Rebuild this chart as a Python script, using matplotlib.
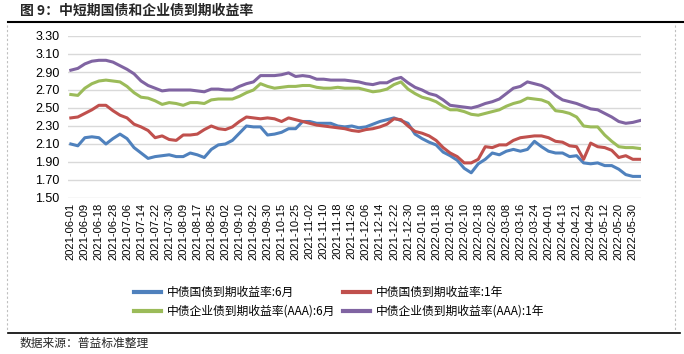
import matplotlib.pyplot as plt
import numpy as np
from matplotlib.lines import Line2D

plt.rcParams['font.family'] = ['Liberation Sans', 'Noto Sans CJK SC', 'DejaVu Sans']
CJK = ['Noto Sans CJK SC', 'DejaVu Sans']

# tick labels: every 6th trading day
tick_labels = [
    '2021-06-01', '2021-06-09', '2021-06-18', '2021-06-28', '2021-07-06', '2021-07-14',
    '2021-07-22', '2021-07-30', '2021-08-09', '2021-08-17', '2021-08-25', '2021-09-02',
    '2021-09-10', '2021-09-22', '2021-09-30', '2021-10-15', '2021-10-25', '2021-11-02',
    '2021-11-10', '2021-11-18', '2021-11-26', '2021-12-06', '2021-12-14', '2021-12-22',
    '2021-12-30', '2022-01-10', '2022-01-18', '2022-01-26', '2022-02-10', '2022-02-18',
    '2022-02-28', '2022-03-08', '2022-03-16', '2022-03-24', '2022-04-01', '2022-04-13',
    '2022-04-21', '2022-04-29', '2022-05-12', '2022-05-20', '2022-05-30',
]

# yields read every 3rd trading day
gov_6m = [
    2.10, 2.08, 2.17, 2.18, 2.17, 2.10, 2.16, 2.21, 2.16, 2.06, 2.00, 1.94, 1.96, 1.97,
    1.98, 1.96, 1.96, 2.00, 1.98, 1.95, 2.04,
    2.09, 2.10, 2.14, 2.22, 2.30, 2.29, 2.29, 2.20, 2.21, 2.23, 2.27, 2.27, 2.35, 2.35,
    2.33, 2.33, 2.33, 2.30, 2.29, 2.30,
    2.28, 2.29, 2.32, 2.35, 2.37, 2.39, 2.36, 2.33, 2.21, 2.16, 2.12, 2.09, 2.01, 1.97,
    1.92, 1.83, 1.78, 1.88, 1.93, 2.00, 1.98,
    2.02, 2.04, 2.02, 2.04, 2.13, 2.07, 2.02, 2.00, 2.00, 1.96, 1.97, 1.89, 1.88, 1.89,
    1.86, 1.86, 1.82, 1.76, 1.74, 1.74,
]
gov_1y = [
    2.39, 2.40, 2.44, 2.48, 2.53, 2.53, 2.47, 2.42, 2.39, 2.32, 2.29, 2.25, 2.17, 2.19,
    2.15, 2.14, 2.20, 2.20, 2.21, 2.26, 2.30,
    2.27, 2.26, 2.29, 2.35, 2.40, 2.39, 2.38, 2.39, 2.38, 2.35, 2.39, 2.37, 2.35, 2.33,
    2.31, 2.30, 2.29, 2.28, 2.27, 2.25,
    2.24, 2.26, 2.27, 2.29, 2.32, 2.38, 2.37, 2.30, 2.24, 2.22, 2.19, 2.14, 2.06, 2.00,
    1.96, 1.89, 1.89, 1.93, 2.07, 2.06, 2.09,
    2.09, 2.14, 2.17, 2.18, 2.19, 2.19, 2.17, 2.13, 2.12, 2.08, 2.07, 1.93, 2.11, 2.07,
    2.06, 2.03, 1.95, 1.97, 1.93, 1.93,
]
corp_6m = [
    2.65, 2.64, 2.72, 2.77, 2.80, 2.81, 2.80, 2.79, 2.74, 2.67, 2.62, 2.61, 2.58, 2.54,
    2.56, 2.55, 2.53, 2.56, 2.56, 2.55, 2.59,
    2.60, 2.60, 2.60, 2.63, 2.67, 2.70, 2.77, 2.74, 2.72, 2.73, 2.74, 2.74, 2.75, 2.75,
    2.73, 2.72, 2.72, 2.73, 2.72, 2.72,
    2.72, 2.70, 2.68, 2.69, 2.71, 2.76, 2.79, 2.71, 2.66, 2.62, 2.60, 2.57, 2.52, 2.48,
    2.48, 2.46, 2.43, 2.42, 2.44, 2.46, 2.48,
    2.52, 2.55, 2.57, 2.61, 2.60, 2.59, 2.56, 2.47, 2.46, 2.44, 2.40, 2.30, 2.29, 2.29,
    2.20, 2.13, 2.07, 2.06, 2.06, 2.05,
]
corp_1y = [
    2.92, 2.94, 2.99, 3.02, 3.03, 3.03, 3.01, 2.97, 2.93, 2.88, 2.80, 2.75, 2.72, 2.69,
    2.70, 2.70, 2.70, 2.70, 2.69, 2.68, 2.71,
    2.71, 2.70, 2.70, 2.74, 2.77, 2.79, 2.86, 2.86, 2.86, 2.87, 2.89, 2.85, 2.86, 2.85,
    2.82, 2.82, 2.81, 2.81, 2.81, 2.80,
    2.79, 2.77, 2.76, 2.78, 2.78, 2.82, 2.84, 2.78, 2.73, 2.70, 2.66, 2.64, 2.59, 2.53,
    2.52, 2.51, 2.50, 2.52, 2.55, 2.57, 2.60,
    2.66, 2.72, 2.74, 2.79, 2.77, 2.75, 2.71, 2.64, 2.59, 2.57, 2.55, 2.52, 2.49, 2.48,
    2.44, 2.40, 2.35, 2.33, 2.34, 2.36,
]

names = ['中债国债到期收益率:6月', '中债国债到期收益率:1年',
         '中债企业债到期收益率(AAA):6月', '中债企业债到期收益率(AAA):1年']
colors = ['#4F81BD', '#C0504D', '#9BBB59', '#8064A2']

W, H = 684, 354
fig = plt.figure(figsize=(W / 100, H / 100), dpi=100)
ax = fig.add_axes([68 / W, 1 - 198 / H, (641 - 68) / W, (198 - 36) / H])

x = np.arange(len(gov_6m)) * 3
lines = []
for vals, name, c in zip([gov_6m, gov_1y, corp_6m, corp_1y], names, colors):
    ln, = ax.plot(x, vals, color=c, lw=2.2, label=name, solid_joinstyle='round')
    lines.append(ln)

ax.set_xlim(-1.2, 243.5)
ax.set_ylim(1.5, 3.3)
ax.set_yticks(np.arange(1.5, 3.31, 0.2))
ax.yaxis.set_major_formatter('{x:.2f}')
ax.set_xticks(np.arange(0, 6 * len(tick_labels), 6))
ax.set_xticklabels(tick_labels, rotation=90, fontsize=8)
ax.tick_params(axis='x', length=0, pad=3.5)
ax.tick_params(axis='y', length=0, pad=6, labelsize=9)
ax.grid(axis='y', color='#D9D9D9', lw=1)
ax.set_axisbelow(True)
for s in ax.spines.values():
    s.set_visible(False)

# legend: row 1 = 6M gov / 1Y gov, row 2 = 6M corp / 1Y corp
handles = [Line2D([], [], color=c, lw=3) for c in colors]
order = [0, 2, 1, 3]
fig.legend([handles[i] for i in order], [names[i] for i in order],
           loc='upper left', bbox_to_anchor=(134 / W, 1 - 286 / H), ncol=2,
           frameon=False, prop={'family': CJK, 'size': 8.5},
           handlelength=2.3, handletextpad=0.5, columnspacing=0.6,
           labelspacing=0.5, borderpad=0, borderaxespad=0)

fig.text(20 / W, 1 - 11 / H, '图 9：中短期国债和企业债到期收益率', family=CJK,
         fontsize=10, fontweight='bold', color='#262626', va='center')
fig.text(20 / W, 1 - 343 / H, '数据来源：普益标准整理', family=CJK,
         fontsize=8.5, color='#262626', va='center')

fig.add_artist(Line2D([8 / W, 1], [1 - 22 / H] * 2, color='black', lw=1.5))
fig.add_artist(Line2D([8 / W, 680 / W], [1 - 333 / H] * 2, color='black', lw=1.2))
for xe in (7, 675):
    fig.add_artist(Line2D([xe / W] * 2, [1 - 25 / H, 1 - 331 / H], color='#BFBFBF',
                          lw=0.8, ls=(0, (2, 2))))

fig.savefig('out.png', dpi=100)
